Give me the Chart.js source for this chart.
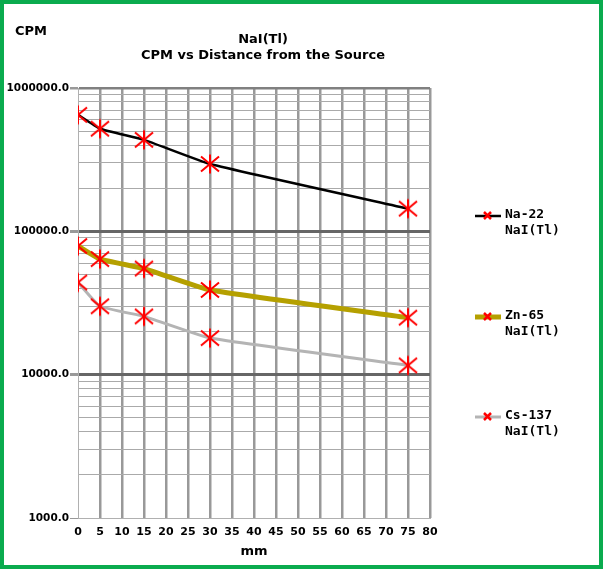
<!DOCTYPE html>
<html>
<head>
<meta charset="utf-8">
<script src="https://cdn.jsdelivr.net/npm/chart.js@4/dist/chart.umd.min.js"></script>
<style>
  html, body { margin: 0; padding: 0; background: #fff; }
  #frame { width: 595px; height: 561px; border: 4px solid #0aab4e; }
  canvas { display: block; }
</style>
</head>
<body>
<div id="frame"><canvas id="cpmChart" width="595" height="561"></canvas></div>
<script>
// distance from the source (mm)
const distances = [0, 5, 15, 30, 75];
// counts per minute
const na22 = [650000, 520000, 435000, 295000, 144000];
const zn65 = [79000, 64000, 55000, 39000, 25000];
const cs137 = [44000, 30000, 25500, 18000, 11600];
const seriesNames = ['Na-22', 'Zn-65', 'Cs-137'];
const detector = 'NaI(Tl)';
const lineColors = ['#000000', '#b5a000', '#b4b4b4'];
const lineWidths = [2.5, 5, 3];

// red asterisk used for the data points
function makeStar(size) {
    const c = document.createElement('canvas');
    c.width = size; c.height = size;
    const g = c.getContext('2d');
    const m = size / 2, r = size / 2 - 1.5;
    g.strokeStyle = '#ff0000';
    g.lineWidth = 2;
    g.beginPath();
    g.moveTo(m - r * 0.95, m - r * 0.8); g.lineTo(m + r * 0.95, m + r * 0.8);
    g.moveTo(m + r * 0.95, m - r * 0.8); g.lineTo(m - r * 0.95, m + r * 0.8);
    g.moveTo(m, m - r); g.lineTo(m, m + r);
    g.stroke();
    return c;
}
const star = makeStar(22);

function toPoints(values) {
    return distances.map((d, i) => ({ x: d, y: values[i] }));
}

function isDecade(v) {
    const l = Math.log10(v);
    return Math.abs(l - Math.round(l)) < 1e-9;
}

// title, axis label and legend
const textPlugin = {
    id: 'texts',
    afterDraw(chart) {
        const ctx = chart.ctx;
        ctx.save();
        ctx.fillStyle = '#000';
        ctx.font = 'bold 13px "DejaVu Sans"';
        ctx.textBaseline = 'middle';
        ctx.textAlign = 'left';
        ctx.fillText('CPM', 11, 28);
        ctx.textAlign = 'center';
        ctx.fillText('NaI(Tl)', 259, 36);
        ctx.fillText('CPM vs Distance from the Source', 259, 52);

        const rows = [211, 312, 412];
        ctx.textAlign = 'left';
        ctx.font = 'bold 13px "DejaVu Sans Mono"';
        seriesNames.forEach((name, i) => {
            const y = rows[i];
            ctx.strokeStyle = lineColors[i];
            ctx.lineWidth = lineWidths[i];
            ctx.beginPath();
            ctx.moveTo(471, y + 1); ctx.lineTo(497, y + 1);
            ctx.stroke();
            ctx.strokeStyle = '#ff0000';
            ctx.lineWidth = 2.5;
            ctx.beginPath();
            ctx.moveTo(480, y - 3); ctx.lineTo(487, y + 4);
            ctx.moveTo(487, y - 3); ctx.lineTo(480, y + 4);
            ctx.stroke();
            ctx.fillStyle = '#000';
            ctx.fillText(name, 501, y);
            ctx.fillText(detector, 501, y + 16);
        });
        ctx.restore();
    }
};

const ctx = document.getElementById('cpmChart').getContext('2d');
new Chart(ctx, {
    type: 'line',
    data: {
        datasets: [na22, zn65, cs137].map((vals, i) => ({
            label: seriesNames[i] + ' ' + detector,
            data: toPoints(vals),
            borderColor: lineColors[i],
            borderWidth: lineWidths[i],
            tension: 0.12,
            pointStyle: star,
            pointRadius: 10,
            pointHoverRadius: 10,
            fill: false
        }))
    },
    options: {
        responsive: false,
        animation: false,
        layout: { padding: { left: 0, right: 169, top: 84, bottom: 0 } },
        plugins: {
            legend: { display: false },
            title: { display: false },
            tooltip: { enabled: false }
        },
        scales: {
            x: {
                type: 'linear',
                min: 0,
                max: 80,
                afterFit(scale) { scale.height = 47; },
                ticks: {
                    stepSize: 5,
                    padding: 8,
                    color: '#000',
                    font: { family: 'DejaVu Sans', size: 11, weight: 'bold' }
                },
                grid: {
                    drawTicks: false,
                    color: c => c.tick && c.tick.value === 0 ? '#b0b0b0' : '#999999',
                    lineWidth: c => c.tick && c.tick.value === 0 ? 1 : 2.5
                },
                border: { display: true, color: '#b0b0b0', width: 1 },
                title: {
                    display: true,
                    text: 'mm',
                    color: '#000',
                    padding: { top: 2, bottom: 6 },
                    font: { family: 'DejaVu Sans', size: 13, weight: 'bold' }
                }
            },
            y: {
                type: 'logarithmic',
                min: 1000,
                max: 1000000,
                afterFit(scale) { scale.width = 74; },
                afterBuildTicks(scale) {
                    const t = [];
                    for (let e = 3; e < 6; e++) {
                        for (let m = 1; m < 10; m++) t.push({ value: m * Math.pow(10, e) });
                    }
                    t.push({ value: 1000000 });
                    scale.ticks = t;
                },
                ticks: {
                    autoSkip: false,
                    padding: 1,
                    color: '#000',
                    font: { family: 'DejaVu Sans', size: 10.5, weight: 'bold' },
                    callback: v => isDecade(v) ? v.toFixed(1) : ''
                },
                grid: {
                    tickLength: 8,
                    tickColor: c => isDecade(c.tick.value) ? '#999999' : 'rgba(0,0,0,0)',
                    color: c => {
                        const v = c.tick.value;
                        if (v === 1000) return '#b0b0b0';
                        if (v === 1000000) return '#808080';
                        return isDecade(v) ? '#666666' : '#aaaaaa';
                    },
                    lineWidth: c => {
                        const v = c.tick.value;
                        if (v === 1000) return 1;
                        if (v === 1000000) return 2.5;
                        return isDecade(v) ? 3 : 1;
                    }
                },
                border: { display: true, color: '#b0b0b0', width: 1 }
            }
        }
    },
    plugins: [textPlugin]
});
</script>
</body>
</html>
